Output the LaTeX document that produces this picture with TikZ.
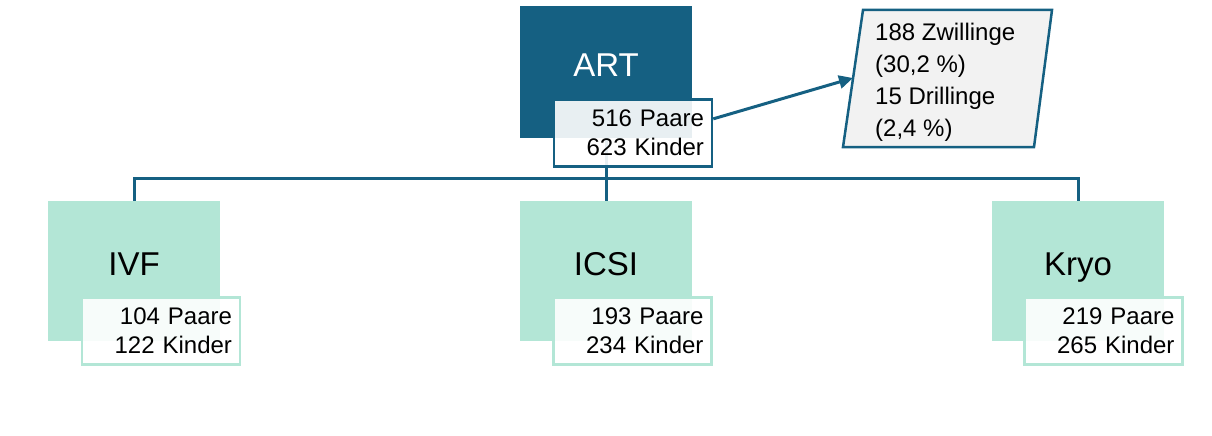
\documentclass[tikz,border=0pt]{standalone}
\usepackage{fontspec}
\setmainfont{Liberation Sans}
\usetikzlibrary{arrows.meta,backgrounds}
\definecolor{artblue}{HTML}{156082}
\definecolor{mint}{HTML}{B3E6D6}
\definecolor{paragray}{HTML}{F2F2F2}
\tikzset{
  titlebox/.style={minimum width=172pt, inner sep=0pt, text height=24pt, text depth=15pt,
                   font=\fontsize{33}{36}\selectfont},
  artbox/.style={titlebox, fill=artblue, text=white, minimum height=132pt},
  subjbox/.style={titlebox, fill=mint, text=black, minimum height=140pt},
  subbox/.style={draw, line width=2.5pt, fill=white, fill opacity=0.9, text opacity=1,
                 minimum height=67pt, inner xsep=8pt, inner ysep=0pt, text width=142pt,
                 align=right, font=\fontsize{24}{29}\selectfont},
  artsub/.style={subbox, draw=artblue},
  mintsub/.style={subbox, draw=mint},
  connector/.style={draw=artblue, line width=3pt},
  pointer/.style={draw=artblue, line width=3pt, -{Triangle[length=14pt,width=13pt]}},
  paraframe/.style={draw=artblue, line width=2.5pt, fill=paragray, line join=miter},
  paratext/.style={inner sep=0pt, align=left, font=\fontsize{24}{32}\selectfont, anchor=west}
}
\begin{document}
\begin{tikzpicture}[x=1pt,y=-1pt]
  \useasboundingbox (0,0) rectangle (1212,436);
  % main boxes
  \node[artbox] (art) at (606,72) {ART};
  \node[artsub] (artsub) at (633,133) {516 Paare\\623 Kinder};
  \node[subjbox] (ivf) at (134,271) {IVF};
  \node[mintsub] (ivfsub) at (161,331) {104 Paare\\122 Kinder};
  \node[subjbox] (icsi) at (606,271) {ICSI};
  \node[mintsub] (icsisub) at (632.5,331) {193 Paare\\234 Kinder};
  \node[subjbox] (kryo) at (1078,271) {Kryo};
  \node[mintsub] (kryosub) at (1103.5,331) {219 Paare\\265 Kinder};
  % connectors behind
  \begin{scope}[on background layer]
    \draw[connector] (art.south) -- ++(0,40) -| (ivf.north);
    \draw[connector] (art.south) -- ++(0,40) -| (kryo.north);
    \draw[connector] (art.south) -- (icsi.north);
  \end{scope}
  % parallelogram
  \draw[paraframe] (863,10) -- (1052,10) -- (1034,147) -- (843,147) -- cycle;
  \coordinate (paraleft) at (853,78);
  \node[paratext] (paranote) at (875,82) {188 Zwillinge\\(30,2 \%)\\15 Drillinge\\(2,4 \%)};
  \draw[pointer] (artsub.10) -- (paraleft);
\end{tikzpicture}
\end{document}
